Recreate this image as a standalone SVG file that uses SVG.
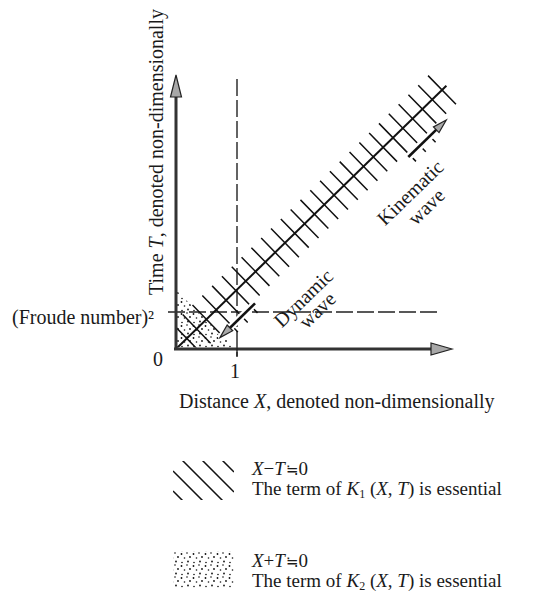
<svg xmlns="http://www.w3.org/2000/svg" width="544" height="593" viewBox="0 0 544 593">
  <style>
    text { font-family: "Liberation Serif", "DejaVu Serif", serif; font-size: 20px; fill: #1a1a1a; }
    .leg { font-size: 19px; }
    .it { font-style: italic; }
    .sub { font-size: 12px; }
    .eq { font-family: "DejaVu Sans", sans-serif; font-size: 15px; }
    .dash { stroke: #222; stroke-width: 1.4; fill: none; stroke-dasharray: 17 4; }
    .hatch { stroke: #111; stroke-width: 1.5; fill: none; }
    .axis { stroke: #333; stroke-width: 3; fill: none; }
    .head { fill: #a8a8a8; stroke: #222; stroke-width: 1.2; }
    .arrow { stroke: #111; stroke-width: 2.6; fill: none; }
    .halo { stroke: #fff; fill: none; }
  </style>
  <defs>
    <pattern id="dots" width="12" height="12" patternUnits="userSpaceOnUse">
      <circle cx="1.5" cy="2" r="0.9" fill="#111"/>
      <circle cx="7" cy="1" r="0.8" fill="#111"/>
      <circle cx="10" cy="5" r="0.9" fill="#111"/>
      <circle cx="4.5" cy="6" r="0.8" fill="#111"/>
      <circle cx="8" cy="9.5" r="0.9" fill="#111"/>
      <circle cx="2" cy="10.5" r="0.8" fill="#111"/>
    </pattern>
    <clipPath id="quad">
      <rect x="176.5" y="60" width="300" height="287.5"/>
    </clipPath>
    <clipPath id="legclip">
      <rect x="173" y="461" width="61" height="39"/>
    </clipPath>
  </defs>

  <g id="stipple-region">
    <polygon points="176,290 176,348 235,348" fill="url(#dots)"/>
  </g>

  <g id="reference-lines">
    <line class="dash" x1="237" y1="79" x2="237" y2="356"/>
    <line class="dash" x1="168" y1="312" x2="440" y2="312"/>
  </g>

  <g id="hatch-band" clip-path="url(#quad)">
    <g transform="translate(177,348) rotate(-44.24)">
      <line x1="0" y1="0" x2="376" y2="0" stroke="#111" stroke-width="2"/>
      <path class="hatch" d="M0 -20V20 M13.7 -20V20 M27.4 -20V20 M41.1 -20V20 M54.8 -20V31 M68.5 -20V31 M82.2 -20V31 M95.9 -20V20 M109.6 -20V20 M123.3 -20V20 M137 -20V20 M150.7 -20V20 M164.4 -20V20 M178.1 -20V20 M191.8 -20V20 M205.5 -20V20 M219.2 -20V20 M232.9 -20V20 M246.6 -20V20 M260.3 -20V20 M274 -20V20 M287.7 -20V20 M301.4 -20V33 M315.1 -20V33 M328.8 -20V33 M342.5 -20V20 M356.2 -20V20 M369.9 -20V20"/>
    </g>
  </g>

  <g id="connectors">
    <line class="axis" x1="176" y1="350" x2="176" y2="93"/>
    <polygon class="head" points="176,75 181.5,97 170.5,97"/>
    <line class="axis" x1="174" y1="349" x2="434" y2="349"/>
    <polygon class="head" points="452,349 431,343 431,355"/>
    <g transform="translate(177,348) rotate(-44.24)">
      <line class="halo" stroke-width="8" x1="296" y1="24.5" x2="353" y2="24.5"/>
      <line class="arrow" x1="299" y1="24.5" x2="340" y2="24.5"/>
      <polygon class="head" points="352,24.5 338,20.5 338,28.5"/>
      <line class="halo" stroke-width="7" x1="37" y1="22.5" x2="90" y2="22.5"/>
      <line class="arrow" x1="87" y1="22.5" x2="50" y2="22.5"/>
      <polygon class="head" points="38,22.5 52,18.5 52,26.5"/>
    </g>
    <line x1="237" y1="348" x2="237" y2="357" stroke="#222" stroke-width="1.4"/>
  </g>

  <g id="axis-labels">
    <text transform="translate(163,152) rotate(-90)" text-anchor="middle">Time <tspan class="it">T</tspan>, denoted non-dimensionally</text>
    <text x="179" y="408">Distance <tspan class="it">X</tspan>, denoted non-dimensionally</text>
    <text x="12" y="324">(Froude number)²</text>
    <text x="158" y="366" text-anchor="middle">0</text>
    <text x="235" y="378" text-anchor="middle">1</text>
  </g>

  <g id="kinematic-label">
    <text transform="translate(415,197.5) rotate(-44)" text-anchor="middle">Kinematic</text>
    <text transform="translate(431,211.5) rotate(-44)" text-anchor="middle">wave</text>
  </g>
  <g id="dynamic-label">
    <text transform="translate(308,303) rotate(-44)" text-anchor="middle">Dynamic</text>
    <text transform="translate(322,315) rotate(-44)" text-anchor="middle">wave</text>
  </g>

  <g id="legend-k1">
    <g clip-path="url(#legclip)">
      <path class="hatch" d="M173 411L234 472 M173 431L234 492 M173 451L234 512 M173 471L234 532 M173 491L234 552"/>
    </g>
    <text class="leg" x="252" y="475"><tspan class="it">X</tspan>−<tspan class="it">T</tspan><tspan class="eq" dx="1">≒</tspan>0</text>
    <text class="leg" x="252" y="495">The term of <tspan class="it">K</tspan><tspan class="sub" dy="3">1</tspan><tspan dy="-3"> (</tspan><tspan class="it">X</tspan>, <tspan class="it">T</tspan>) is essential</text>
  </g>

  <g id="legend-k2">
    <rect x="173" y="551" width="61" height="37" fill="url(#dots)"/>
    <text class="leg" x="252" y="567"><tspan class="it">X</tspan>+<tspan class="it">T</tspan><tspan class="eq" dx="1">≒</tspan>0</text>
    <text class="leg" x="252" y="587">The term of <tspan class="it">K</tspan><tspan class="sub" dy="3">2</tspan><tspan dy="-3"> (</tspan><tspan class="it">X</tspan>, <tspan class="it">T</tspan>) is essential</text>
  </g>
</svg>
